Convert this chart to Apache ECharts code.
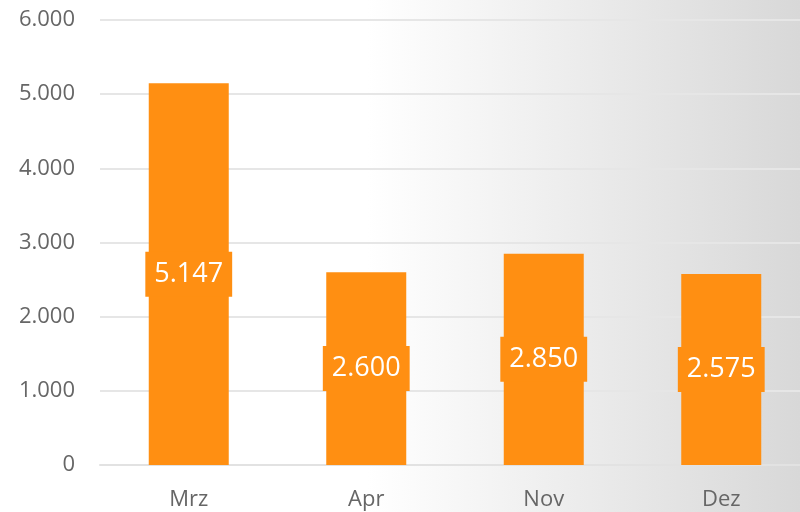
<!DOCTYPE html>
<html>
<head>
<meta charset="utf-8">
<script src="https://cdn.jsdelivr.net/npm/echarts@6/dist/echarts.min.js"></script>
<style>
    html, body { margin: 0; padding: 0; }
    #main { width: 800px; height: 512px; }
</style>
</head>
<body>
<div id="main"></div>
<script>
var months = ['Mrz', 'Apr', 'Nov', 'Dez'];
var values = [5147, 2600, 2850, 2575];
var yTicks = [0, 1000, 2000, 3000, 4000, 5000, 6000];

// Tausendertrennzeichen wie im Original (5.147)
function fmt(v) {
    return String(v).replace(/\B(?=(\d{3})+(?!\d))/g, '.');
}

var myChart = echarts.init(document.getElementById('main'));

var option = {
    backgroundColor: {
        type: 'linear', x: 0, y: 0, x2: 1, y2: 0,
        colorStops: [
            {offset: 0, color: '#ffffff'},
            {offset: 0.46, color: '#ffffff'},
            {offset: 1, color: '#d8d8d8'}
        ]
    },
    animation: false,
    grid: {
        left: 100,
        right: -10,
        top: 20,
        bottom: 47,
        outerBoundsMode: 'none'
    },
    xAxis: {
        type: 'category',
        data: months,
        axisTick: {show: false},
        axisLine: {lineStyle: {color: '#e2e2e2', width: 2}},
        axisLabel: {
            color: '#666666',
            fontSize: 22,
            fontFamily: 'Open Sans',
            margin: 24
        }
    },
    yAxis: {
        type: 'value',
        min: yTicks[0],
        max: yTicks[yTicks.length - 1],
        interval: 1000,
        axisLine: {show: false},
        axisTick: {show: false},
        splitLine: {lineStyle: {color: '#e6e6e6', width: 2}},
        axisLabel: {
            color: '#666666',
            fontSize: 22,
            fontFamily: 'Open Sans',
            margin: 25,
            formatter: function (v) { return fmt(v); }
        }
    },
    series: [
        {
            type: 'bar',
            data: values,
            barWidth: 80,
            itemStyle: {color: '#ff8f12'},
            label: {
                show: true,
                position: 'inside',
                color: '#ffffff',
                fontSize: 27,
                fontFamily: 'Open Sans',
                backgroundColor: '#ff8f12',
                padding: [10, 9, 8, 9],
                formatter: function (p) { return fmt(p.value); }
            }
        }
    ]
};
myChart.setOption(option);
</script>
</body>
</html>
